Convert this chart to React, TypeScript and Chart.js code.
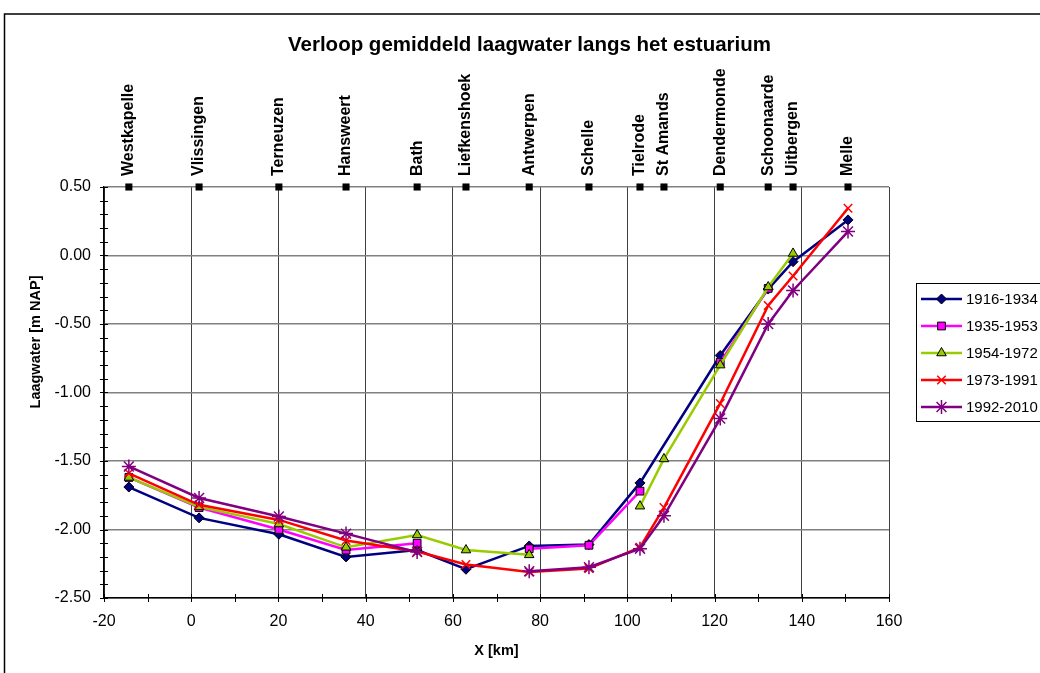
import React, { useEffect, useRef } from "react";
import { Chart, registerables } from "chart.js";
import { drawPoint } from "chart.js/helpers";

Chart.register(...registerables);

const chartTitle = "Verloop gemiddeld laagwater langs het estuarium";
const xAxisTitle = "X [km]";
const yAxisTitle = "Laagwater [m NAP]";

const stations = [
  "Westkapelle", "Vlissingen", "Terneuzen", "Hansweert", "Bath", "Liefkenshoek",
  "Antwerpen", "Schelle", "Tielrode", "St Amands", "Dendermonde", "Schoonaarde",
  "Uitbergen", "Melle",
];
const stationKm = [-14.3, 1.8, 20.1, 35.5, 51.8, 63.0, 77.5, 91.2, 102.9, 108.4, 121.3, 132.3, 138.0, 150.6];
const stationLevel = 0.5;

const seriesLabels = ["1916-1934", "1935-1953", "1954-1972", "1973-1991", "1992-2010"];
const lw1916 = [-1.69, -1.915, -2.035, -2.2, -2.15, -2.29, -2.12, -2.11, -1.66, null, -0.73, -0.245, -0.045, 0.26];
const lw1935 = [-1.62, -1.84, -2.0, -2.15, -2.1, null, -2.14, -2.115, -1.72, null, -0.78, -0.24, null, null];
const lw1954 = [-1.62, -1.835, -1.96, -2.13, -2.04, -2.15, -2.185, null, -1.83, -1.485, -0.8, -0.23, 0.015, null];
const lw1973 = [-1.59, -1.82, -1.93, -2.08, -2.16, -2.255, -2.31, -2.285, -2.13, -1.84, -1.08, -0.365, -0.15, 0.345];
const lw1992 = [-1.54, -1.77, -1.905, -2.03, -2.165, null, -2.305, -2.275, -2.14, -1.9, -1.19, -0.5, -0.255, 0.175];

const xMin = -20, xMax = 160, xStep = 20, xMinorStep = 10;
const yMin = -2.5, yMax = 0.5, yStep = 0.5, yMinorStep = 0.1;

const FONT = '"Liberation Sans", Arial, Helvetica, sans-serif';

type Style = { color: string; fill: string; edge: string; point: string; radius: number; pw: number; span: boolean };
const styles: Style[] = [
  { color: "#000080", fill: "#000080", edge: "#000000", point: "rectRot", radius: 5, pw: 1, span: true },
  { color: "#FF00FF", fill: "#FF00FF", edge: "#000000", point: "rect", radius: 5.5, pw: 1, span: false },
  { color: "#99CC00", fill: "#99CC00", edge: "#000000", point: "triangle", radius: 5.5, pw: 1, span: false },
  { color: "#FF0000", fill: "#FF0000", edge: "#FF0000", point: "crossRot", radius: 6, pw: 1.5, span: false },
  { color: "#800080", fill: "#800080", edge: "#800080", point: "star", radius: 7, pw: 1.5, span: false },
];
const allSeries = [lw1916, lw1935, lw1954, lw1973, lw1992];

const decorPlugin = {
  id: "decor",
  afterDraw(chart: any) {
    const { ctx } = chart;
    const x = chart.scales.x;
    const y = chart.scales.y;
    ctx.save();
    // outer frame
    ctx.strokeStyle = "#000";
    ctx.lineWidth = 1.5;
    ctx.strokeRect(4.5, 14, 1200, 1000);

    // title
    ctx.fillStyle = "#000";
    ctx.font = `bold 20.5px ${FONT}`;
    ctx.textAlign = "center";
    ctx.textBaseline = "middle";
    ctx.fillText(chartTitle, 529.5, 45);

    // y axis title
    ctx.font = `bold 14.5px ${FONT}`;
    ctx.save();
    ctx.translate(36, 342);
    ctx.rotate(-Math.PI / 2);
    ctx.textAlign = "center";
    ctx.textBaseline = "middle";
    ctx.fillText(yAxisTitle, 0, 0);
    ctx.restore();

    // station labels
    ctx.font = `bold 16px ${FONT}`;
    const sy = y.getPixelForValue(stationLevel) - 11;
    stations.forEach((name, i) => {
      const px = x.getPixelForValue(stationKm[i]);
      ctx.save();
      ctx.translate(px, sy);
      ctx.rotate(-Math.PI / 2);
      ctx.textAlign = "left";
      ctx.textBaseline = "middle";
      ctx.fillText(name, 0, 0);
      ctx.restore();
    });

    // minor / major tick marks crossing the axes
    ctx.strokeStyle = "#000";
    ctx.lineWidth = 1;
    const ax = x.left;
    for (let v = yMin; v <= yMax + 1e-9; v += yMinorStep) {
      const py = Math.round(y.getPixelForValue(v)) + 0.5;
      ctx.beginPath();
      ctx.moveTo(ax - 4, py);
      ctx.lineTo(ax + 4, py);
      ctx.stroke();
    }
    const ay = y.bottom;
    for (let v = xMin; v <= xMax + 1e-9; v += xMinorStep) {
      const px = Math.round(x.getPixelForValue(v)) + 0.5;
      ctx.beginPath();
      ctx.moveTo(px, ay - 4);
      ctx.lineTo(px, ay + 4);
      ctx.stroke();
    }

    // legend
    const lx = 916.5, ly = 283.5;
    ctx.fillStyle = "#fff";
    ctx.fillRect(lx, ly, 200, 138);
    ctx.strokeStyle = "#000";
    ctx.lineWidth = 1;
    ctx.strokeRect(lx, ly, 200, 138);
    ctx.font = `15px ${FONT}`;
    ctx.textAlign = "left";
    ctx.textBaseline = "middle";
    seriesLabels.forEach((lab, i) => {
      const st = styles[i];
      const cy = 299 + 27 * i;
      ctx.strokeStyle = st.color;
      ctx.lineWidth = 2.5;
      ctx.beginPath();
      ctx.moveTo(921, cy);
      ctx.lineTo(962, cy);
      ctx.stroke();
      ctx.fillStyle = st.fill;
      ctx.strokeStyle = st.edge;
      ctx.lineWidth = st.pw;
      drawPoint(ctx, { pointStyle: st.point, radius: st.radius, rotation: 0, borderWidth: st.pw } as any, 941.5, cy);
      ctx.fillStyle = "#000";
      ctx.fillText(lab, 966, cy + 1);
    });
    ctx.restore();
  },
};

export default function App() {
  const ref = useRef<HTMLCanvasElement | null>(null);
  useEffect(() => {
    document.body.style.margin = "0";
    const canvas = ref.current;
    if (!canvas) return;
    const datasets: any[] = allSeries.map((vals, i) => {
      const st = styles[i];
      return {
        label: seriesLabels[i],
        data: stationKm.map((km, j) => ({ x: km, y: vals[j] })),
        showLine: true,
        borderColor: st.color,
        backgroundColor: st.fill,
        borderWidth: 2.5,
        pointStyle: st.point,
        pointRadius: st.radius,
        pointBackgroundColor: st.fill,
        pointBorderColor: st.edge,
        pointBorderWidth: st.pw,
        spanGaps: st.span,
        order: 10 - i,
        clip: false,
      };
    });
    datasets.push({
      label: "stations",
      data: stationKm.map((km) => ({ x: km, y: stationLevel })),
      showLine: false,
      pointStyle: "rect",
      pointRadius: 5,
      pointBackgroundColor: "#000",
      pointBorderColor: "#000",
      pointBorderWidth: 0,
      order: 20,
      clip: false,
    });
    const chart = new Chart(canvas, {
      type: "scatter",
      data: { datasets },
      plugins: [decorPlugin],
      options: {
        animation: false,
        responsive: false,
        maintainAspectRatio: false,
        layout: { padding: { left: 0, right: 151, top: 187, bottom: 0 } },
        plugins: {
          legend: { display: false },
          title: { display: false },
          tooltip: { enabled: false },
        },
        scales: {
          x: {
            type: "linear",
            min: xMin,
            max: xMax,
            ticks: {
              stepSize: xStep,
              padding: 14,
              color: "#000",
              font: { family: FONT, size: 16 },
              maxRotation: 0,
              callback: (v: any) => String(v),
            },
            grid: { color: "#404040", lineWidth: 1, drawTicks: false },
            border: { color: "#000", width: 1.5 },
            title: {
              display: true,
              text: xAxisTitle,
              color: "#000",
              font: { family: FONT, size: 14.5, weight: "bold" },
              padding: { top: 0, bottom: 13.3 },
            },
            afterFit: (s: any) => { s.height = 75; },
          },
          y: {
            type: "linear",
            min: yMin,
            max: yMax,
            ticks: {
              stepSize: yStep,
              padding: 13,
              color: "#000",
              font: { family: FONT, size: 16 },
              callback: (v: any) => Number(v).toFixed(2),
            },
            grid: { color: "#808080", lineWidth: 1.5, drawTicks: false },
            border: { color: "#000", width: 1.5 },
            title: { display: false },
            afterFit: (s: any) => { s.width = 104; },
          },
        },
      } as any,
    });
    return () => chart.destroy();
  }, []);
  return (
    <div style={{ width: 1040, height: 673, position: "relative", background: "#fff" }}>
      <canvas ref={ref} width={1040} height={673} style={{ width: 1040, height: 673, display: "block" }} />
    </div>
  );
}
